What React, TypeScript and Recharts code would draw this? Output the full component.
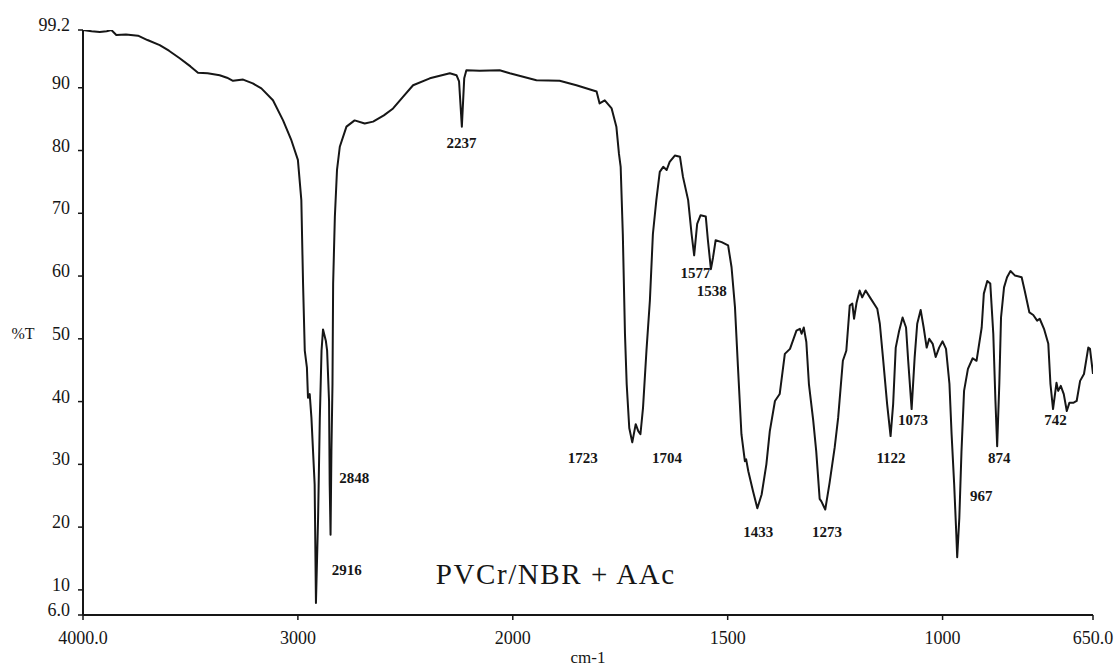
import React from 'react';
import { LineChart, Line, XAxis, YAxis, ReferenceDot } from 'recharts';

// Wavenumbers (cm-1), descending, and %T
const wavenumbers = [
  4000, 3960, 3922, 3890, 3868, 3845, 3800, 3744, 3700, 3643,
  3600, 3550, 3500, 3465, 3420, 3364, 3330, 3302, 3255, 3210,
  3170, 3116, 3069, 3030, 3000, 2984, 2976, 2968, 2958, 2953,
  2945, 2937, 2922, 2916, 2906, 2898, 2890, 2883, 2870, 2864,
  2855, 2852, 2848, 2844, 2839, 2836, 2828, 2818, 2805, 2774,
  2736, 2689, 2650, 2600, 2557, 2510, 2464, 2386, 2293, 2262,
  2250, 2237, 2226, 2216, 2154, 2061, 2014, 1945, 1891, 1852,
  1805, 1798, 1786, 1770, 1759, 1753, 1749, 1744, 1739, 1735,
  1729, 1722, 1714, 1708, 1703, 1697, 1689, 1681, 1674, 1666,
  1658, 1650, 1642, 1635, 1623, 1611, 1604, 1592, 1584, 1578,
  1571, 1563, 1551, 1546, 1539, 1534, 1528, 1514, 1499, 1491,
  1483, 1476, 1468, 1460, 1457, 1452, 1441, 1431, 1421, 1410,
  1402, 1390, 1379, 1367, 1355, 1340, 1332, 1328, 1323, 1317,
  1311, 1301, 1294, 1286, 1282, 1273, 1263, 1251, 1243, 1232,
  1224, 1216, 1210, 1206, 1200, 1193, 1187, 1179, 1169, 1152,
  1146, 1138, 1129, 1121, 1115, 1109, 1101, 1093, 1085, 1080,
  1072, 1065, 1059, 1051, 1044, 1037, 1031, 1023, 1016, 1008,
  1000, 992, 984, 979, 973, 968, 966, 961, 956, 950,
  941, 930, 921, 909, 904, 896, 889, 882, 877, 873,
  868, 864, 857, 850, 842, 832, 816, 809, 798, 789,
  780, 774, 764, 754, 749, 743, 735, 731, 725, 718,
  711, 705, 696, 688, 680, 671, 661, 657, 650,
];

const transmittance = [
  99.2, 99.0, 98.9, 99.0, 99.2, 98.4, 98.5, 98.3, 97.6, 96.8,
  95.9, 94.7, 93.4, 92.4, 92.3, 92.0, 91.6, 91.1, 91.3, 90.7,
  89.9, 88.0, 84.8, 81.6, 78.5, 72.1, 58.8, 48.1, 45.4, 40.6,
  41.2, 37.4, 26.8, 7.9, 21.5, 37.4, 48.1, 51.5, 49.7, 48.1,
  40.1, 26.8, 18.8, 32.1, 42.8, 58.8, 69.4, 76.9, 80.6, 83.8,
  84.8, 84.3, 84.6, 85.6, 86.7, 88.6, 90.4, 91.5, 92.3, 92.0,
  91.0, 83.8, 91.5, 92.8, 92.7, 92.8, 92.3, 91.2, 91.1, 90.4,
  89.4, 87.5, 88.0, 86.7, 83.8, 79.5, 77.4, 66.7, 50.8, 42.8,
  35.8, 33.5, 36.4, 35.3, 34.8, 39.0, 48.1, 56.1, 66.7, 72.1,
  76.6, 77.4, 76.9, 78.2, 79.2, 79.0, 75.8, 72.1, 66.7, 63.3,
  68.3, 69.7, 69.5, 65.7, 61.1, 63.0, 65.7, 65.4, 64.9, 61.4,
  55.0, 45.4, 34.8, 30.5, 30.8, 28.9, 25.7, 23.0, 25.2, 30.0,
  35.3, 40.1, 41.2, 47.6, 48.4, 51.3, 51.6, 50.8, 51.8, 49.5,
  42.8, 37.0, 32.1, 24.5, 24.1, 22.8, 27.0, 32.7, 37.4, 46.5,
  48.1, 55.3, 55.6, 53.2, 55.8, 57.7, 56.6, 57.7, 56.6, 54.8,
  52.4, 46.5, 39.6, 34.5, 39.6, 48.6, 51.3, 53.4, 51.8, 46.5,
  38.8, 47.0, 52.4, 54.6, 51.8, 48.6, 50.0, 49.2, 47.1, 48.6,
  49.6, 48.4, 42.8, 34.8, 26.8, 18.8, 15.2, 21.5, 32.1, 41.7,
  45.2, 46.9, 46.5, 51.8, 57.2, 59.2, 58.8, 50.8, 40.1, 32.9,
  42.8, 53.4, 58.2, 59.8, 60.8, 60.1, 59.8, 57.7, 54.2, 53.8,
  52.9, 53.2, 51.6, 49.2, 42.8, 38.8, 43.0, 41.7, 42.5, 41.2,
  38.5, 39.8, 39.8, 40.1, 43.3, 44.4, 48.6, 48.4, 44.4,
];

// Axis ticks
const xTickValues = [4000, 3000, 2000, 1500, 1000, 650];
const xTickLabels = ['4000.0', '3000', '2000', '1500', '1000', '650.0'];
const yTickValues = [6, 10, 20, 30, 40, 50, 60, 70, 80, 90, 99.2];
const yTickLabels = ['6.0', '10', '20', '30', '40', '50', '60', '70', '80', '90', '99.2'];

// Peak annotations (text anchor in data coordinates)
const peakLabels = ['2237', '2848', '2916', '1723', '1704', '1577', '1538', '1433', '1273', '1122', '1073', '967', '874', '742'];
const peakLabelWn = [2239, 2738, 2773, 1837, 1641, 1575, 1537, 1429, 1269, 1120, 1069, 910, 868, 737];
const peakLabelT = [81.2, 27.8, 13.1, 31.0, 31.0, 60.5, 57.6, 19.2, 19.2, 31.0, 37.0, 24.9, 31.0, 37.0];

const sampleName = 'PVCr/NBR + AAc';
const sampleNameWn = 1900;
const sampleNameT = 12.6;

// IR chart convention: the scale is expanded 2x below 2000 cm-1
const toAxis = (wn: number) => (wn >= 2000 ? 4000 - wn : 2000 + 2 * (2000 - wn));

const data = wavenumbers.map((wn, i) => ({ pos: toAxis(wn), t: transmittance[i] }));
const xTickPositions = xTickValues.map(toAxis);

const FONT = '"Liberation Serif", "Times New Roman", serif';
const INK = '#161616';

const XTick = (props: any) => {
  const { x, y, payload } = props;
  const i = xTickPositions.indexOf(payload.value);
  return (
    <text x={x} y={y + 18} textAnchor="middle" dominantBaseline="central" fontSize={18} fontFamily={FONT} fill={INK}>
      {xTickLabels[i]}
    </text>
  );
};

const YTick = (props: any) => {
  const { x, y, payload } = props;
  const i = yTickValues.indexOf(payload.value);
  return (
    <text x={x} y={y - 5} textAnchor="end" dominantBaseline="central" fontSize={18} fontFamily={FONT} fill={INK}>
      {yTickLabels[i]}
    </text>
  );
};

const makeTextShape = (label: string, size: number, weight: string | number, spacing = 0) => (p: any) => (
  <text
    x={p.cx}
    y={p.cy}
    textAnchor="middle"
    dominantBaseline="central"
    fontSize={size}
    fontWeight={weight}
    fontFamily={FONT}
    letterSpacing={spacing}
    fill={INK}
  >
    {label}
  </text>
);

export default function App() {
  return (
    <div style={{ position: 'absolute', left: 0, top: 0, width: 1116, height: 667, background: '#fff' }}>
      <LineChart width={1116} height={667} data={data} margin={{ top: 30, right: 23, left: 0, bottom: 0 }}>
        <XAxis
          type="number"
          dataKey="pos"
          domain={[0, 4700]}
          ticks={xTickPositions}
          interval={0}
          allowDataOverflow
          height={52}
          tickSize={5}
          tickMargin={0}
          axisLine={{ stroke: INK, strokeWidth: 2 }}
          tickLine={{ stroke: INK, strokeWidth: 1.5 }}
          tick={<XTick />}
          label={{
            content: (p: any) => {
              const vb = p.viewBox || { x: 83, y: 614, width: 1010, height: 52 };
              return (
                <text x={vb.x + vb.width / 2} y={vb.y + 42} textAnchor="middle" dominantBaseline="central" fontSize={17} fontFamily={FONT} fill={INK}>
                  cm-1
                </text>
              );
            },
          }}
        />
        <YAxis
          type="number"
          dataKey="t"
          domain={[6, 99.2]}
          ticks={yTickValues}
          interval={0}
          allowDataOverflow
          width={83}
          tickSize={5}
          tickMargin={8}
          axisLine={{ stroke: INK, strokeWidth: 2 }}
          tickLine={{ stroke: INK, strokeWidth: 1.5 }}
          tick={<YTick />}
          label={{
            content: (p: any) => {
              const vb = p.viewBox || { x: 0, y: 30, width: 83, height: 584 };
              const yy = vb.y + (vb.height * (99.2 - 50)) / (99.2 - 6) - 5;
              return (
                <text x={vb.x + 23} y={yy} textAnchor="middle" dominantBaseline="central" fontSize={16} fontFamily={FONT} fill={INK}>
                  %T
                </text>
              );
            },
          }}
        />
        <Line
          type="linear"
          dataKey="t"
          stroke={INK}
          strokeWidth={2}
          dot={false}
          isAnimationActive={false}
          strokeLinejoin="round"
        />
        {peakLabels.map((lab, i) => (
          <ReferenceDot
            key={lab}
            x={toAxis(peakLabelWn[i])}
            y={peakLabelT[i]}
            r={0}
            ifOverflow="visible"
            shape={makeTextShape(lab, 15, 'bold')}
          />
        ))}
        <ReferenceDot
          x={toAxis(sampleNameWn)}
          y={sampleNameT}
          r={0}
          ifOverflow="visible"
          shape={makeTextShape(sampleName, 29, 'normal', 1.6)}
        />
      </LineChart>
    </div>
  );
}
